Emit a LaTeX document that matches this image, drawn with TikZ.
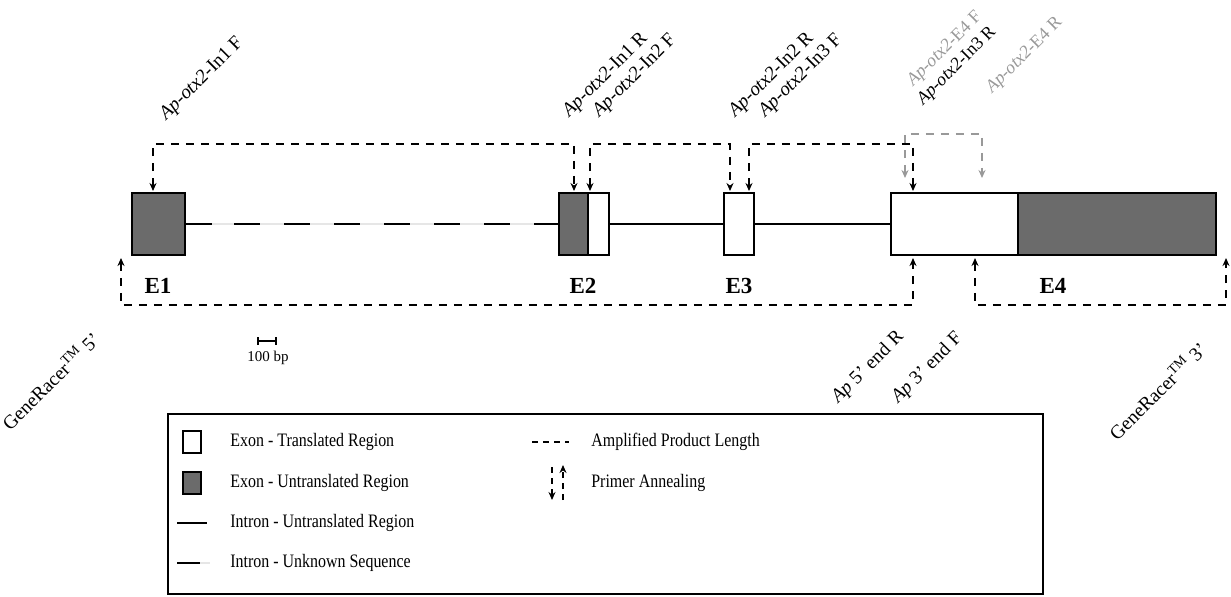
\documentclass[tikz,border=0pt]{standalone}
\usepackage{fontspec}
\setmainfont{Liberation Serif}
\usetikzlibrary{arrows.meta}
\definecolor{utrgray}{HTML}{6B6B6B}
\definecolor{gapgray}{HTML}{E6E6E6}
\definecolor{primgray}{HTML}{999999}

\begin{document}
\begin{tikzpicture}[x=0.5pt,y=-0.5pt,
  ptip/.tip={Stealth[length=4pt,width=3.5pt]},
  exon/.style={draw,line width=1pt,inner sep=0pt,minimum height=31pt,anchor=west,fill=white},
  utr/.style={exon,fill=utrgray},
  amp/.style={line width=0.9pt,dash pattern=on 4pt off 3.5pt,{ptip}-{ptip}},
  lbl/.style={anchor=base west,rotate=45,inner sep=0pt,font=\fontsize{9.7}{11}\selectfont},
  ename/.style={font=\fontsize{11.5}{13}\selectfont\bfseries},
  keytext/.style={anchor=west,inner sep=0pt,xscale=0.84,font=\fontsize{9.5}{11}\selectfont}]
\useasboundingbox (0,0) rectangle (1231,596);

% exons
\node[utr,minimum width=26.5pt] (e1) at (131,224) {};
\node[utr,minimum width=14.5pt] (e2u) at (558,224) {};
\node[exon,minimum width=10.5pt] (e2t) at (587,224) {};
\node[exon,minimum width=15pt] (e3) at (723,224) {};
\node[exon,minimum width=63.5pt] (e4t) at (890,224) {};
\node[utr,minimum width=99pt] (e4u) at (1017,224) {};

% introns
\draw[gapgray,line width=1pt] (e1.east) -- (e2u.west);
\draw[line width=1pt] (e1.east) -- ++(26,0);
\draw[line width=1pt,dash pattern=on 13pt off 12pt] (234,224) -- (e2u.west);
\draw[line width=1pt] (e2t.east) -- (e3.west);
\draw[line width=1pt] (e3.east) -- (e4t.west);

\node[ename] (n1) at (158,286) {E1};
\node[ename] (n2) at (583,286) {E2};
\node[ename] (n3) at (739,286) {E3};
\node[ename] (n4) at (1053,286) {E4};

% primers
\coordinate (in1f) at (153,191);
\coordinate (in1r) at (574,191);
\coordinate (in2f) at (590,191);
\coordinate (in2r) at (730,191);
\coordinate (in3f) at (749,191);
\coordinate (in3r) at (913,191);
\coordinate (e4f) at (905,178);
\coordinate (e4r) at (982,178);
\coordinate (gr5) at (121,258);
\coordinate (r5) at (913,258);
\coordinate (f3) at (975,258);
\coordinate (gr3) at (1226,258);

\draw[amp] (in1f) -- ++(0,-47) -| (in1r);
\draw[amp] (in2f) -- ++(0,-47) -| (in2r);
\draw[amp] (in3f) -- ++(0,-47) -| (in3r);
\draw[amp,primgray] (e4f) -- ++(0,-44) -| (e4r);
\draw[amp] (gr5) -- ++(0,47) -| (r5);
\draw[amp] (f3) -- ++(0,47) -| (gr3);

\node[lbl] (t1) at (166,121) {\textit{Ap-otx2}-In1 F};
\node[lbl] (t2) at (569,118) {\textit{Ap-otx2}-In1 R};
\node[lbl] (t3) at (599,118) {\textit{Ap-otx2}-In2 F};
\node[lbl] (t4) at (735,118) {\textit{Ap-otx2}-In2 R};
\node[lbl] (t5) at (765,118) {\textit{Ap-otx2}-In3 F};
\node[lbl,primgray,font=\fontsize{9}{11}\selectfont] (t6) at (913,87) {\textit{Ap-otx2}-E4 F};
\node[lbl,font=\fontsize{9}{11}\selectfont] (t7) at (923,106) {\textit{Ap-otx2}-In3 R};
\node[lbl,primgray,font=\fontsize{9}{11}\selectfont] (t8) at (992,94) {\textit{Ap-otx2}-E4 R};
\node[lbl] (b1) at (10,432) {GeneRacer\textsuperscript{TM} 5’};
\node[lbl] (b2) at (838,404) {\textit{Ap} 5’ end R};
\node[lbl] (b3) at (898,404) {\textit{Ap} 3’ end F};
\node[lbl] (b4) at (1117,442) {GeneRacer\textsuperscript{TM} 3’};

% scale
\draw[line width=0.8pt,{Bar[width=4pt]}-{Bar[width=4pt]}] (257,341) coordinate (s1) -- (277,341) coordinate (s2);
\node[font=\fontsize{7.5}{8}\selectfont,anchor=north] (sc) at (268,344) {100 bp};

% key
\node[draw,line width=1pt,anchor=north west,inner sep=0pt,minimum width=437.5pt,minimum height=90pt] (key) at (167,413) {};
\node[exon,minimum width=9pt,minimum height=11pt,anchor=center] (k1) at (192,442) {};
\node[utr,minimum width=9pt,minimum height=11pt,anchor=center] (k2) at (192,483) {};
\draw[line width=1pt] (177,523) -- (207,523);
\draw[gapgray,line width=1pt] (200,563) -- (210,563);
\draw[line width=1pt] (177,563) -- (200,563);
\node[keytext] (k1t) at (230,442) {Exon - Translated Region};
\node[keytext] (k2t) at (230,483) {Exon - Untranslated Region};
\node[keytext] (k3t) at (230,523) {Intron - Untranslated Region};
\node[keytext] (k4t) at (230,563) {Intron - Unknown Sequence};
\draw[line width=0.9pt,dash pattern=on 3pt off 2.5pt] (532,442) -- (569,442);
\draw[line width=0.9pt,dash pattern=on 3pt off 2.5pt,-{ptip}] (552,467) -- (552,500);
\draw[line width=0.9pt,dash pattern=on 3pt off 2.5pt,-{ptip}] (563,500) -- (563,465);
\node[keytext] (k5t) at (591,442) {Amplified Product Length};
\node[keytext] (k6t) at (591,483) {Primer Annealing};
\end{tikzpicture}
\end{document}
